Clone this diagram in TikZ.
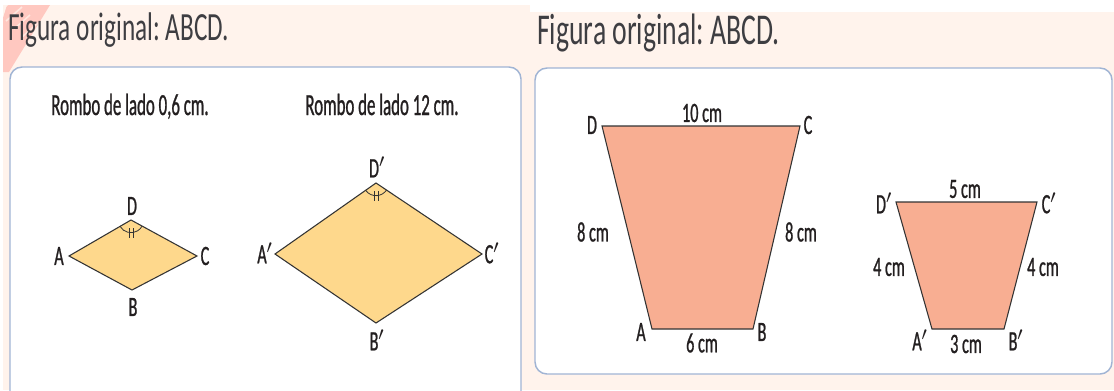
\documentclass[tikz,border=0pt]{standalone}
\usepackage{fontspec}
\usepackage{xcolor}
\usetikzlibrary{angles}
\newfontfamily\lblfont[FakeStretch=0.58,FakeBold=0.8]{Carlito}
\newfontfamily\headfont[FakeStretch=0.55,FakeBold=0.8]{Carlito}
\newfontfamily\ttlfont[FakeStretch=0.63]{Carlito}
\definecolor{mypeach}{RGB}{255,243,236}
\definecolor{myframe}{RGB}{160,180,212}
\definecolor{myyellow}{RGB}{254,216,140}
\definecolor{mysalmon}{RGB}{248,174,146}
\definecolor{myink}{RGB}{35,31,32}
\definecolor{mytitle}{RGB}{62,62,66}
\definecolor{mystripe}{RGB}{255,186,178}
\frenchspacing

\begin{document}
\begin{tikzpicture}[x=0.75pt,y=-0.75pt,
  lbl/.style={text=myink,font=\lblfont\fontsize{21}{24}\selectfont,inner sep=0pt},
  head/.style={text=myink,font=\headfont\fontsize{23}{26}\selectfont,inner sep=0pt,anchor=base},
  ttl/.style={text=mytitle,inner sep=0pt,anchor=base west},
  panel/.style={draw=myframe,line width=1.1pt,fill=white,rounded corners=9pt},
  figline/.style={draw=black!80,line width=0.8pt},
  anglemark/.style={draw=black!80,line width=0.6pt,angle radius=9.5pt}]
\def\W{1114}
\def\H{390}
\useasboundingbox (0,0) rectangle (\W,\H);
\clip (0,0) rectangle (\W,\H);

%backgrounds
\fill[mypeach] (3,5) rectangle (530,\H);
\fill[mypeach] (530,12) rectangle (\W,\H);
\begin{scope}
  \clip (3,5) rectangle (60,80);
  \fill[mystripe,opacity=0.75] (7,5) -- (50,5) -- (9,72) -- (3,72) -- (3,18) -- cycle;
  \foreach \k in {0,8,...,64}
    \draw[mypeach,line width=1.2pt,opacity=0.7] (\k-10,5+\k) -- (\k+6,5+\k-14);
\end{scope}

%titles
\node[ttl,font=\ttlfont\fontsize{30}{33}\selectfont] (t1) at (8,40) {Figura original: ABCD.};
\node[ttl,font=\ttlfont\fontsize{33}{36}\selectfont] (t2) at (537,44) {Figura original: ABCD.};

%frames
\path[panel] (10,67) rectangle (521,410);
\path[panel] (535,68) rectangle (1112,374);

%rhombi
\node[head] (h1) at (130,115) {Rombo de lado 0,6 cm.};
\node[head] (h2) at (382,115) {Rombo de lado 12 cm.};

\coordinate (A) at (69,256);
\coordinate (D) at (131,220);
\coordinate (C) at (197,256);
\coordinate (B) at (132,290);
\draw[figline,fill=myyellow] (A) -- (D) -- (C) -- (B) -- cycle;
\pic[anglemark] {angle = A--D--C};
\foreach \dx in {-2,2}
  \draw[black!80,line width=0.5pt] ([xshift=\dx*0.75pt]D) ++(0,8) -- ++(0,10);

\node[lbl] (lA) at (59,256) {A};
\node[lbl] (lD) at (132,206) {D};
\node[lbl] (lC) at (205,256) {C};
\node[lbl] (lB) at (133,307) {B};

\coordinate (A2) at (275,254);
\coordinate (D2) at (376,183);
\coordinate (C2) at (482,254);
\coordinate (B2) at (376,323);
\draw[figline,fill=myyellow] (A2) -- (D2) -- (C2) -- (B2) -- cycle;
\pic[anglemark] {angle = A2--D2--C2};
\foreach \dx in {-2,2}
  \draw[black!80,line width=0.5pt] ([xshift=\dx*0.75pt]D2) ++(0,8) -- ++(0,10);

\node[lbl] (lA2) at (265,253) {A$'$};
\node[lbl] (lD2) at (377,167) {D$'$};
\node[lbl] (lC2) at (492,253) {C$'$};
\node[lbl] (lB2) at (377,340) {B$'$};

%trapezoids
\coordinate (P) at (652,329);
\coordinate (Q) at (753,329);
\coordinate (R) at (800,126);
\coordinate (S) at (602,126);
\draw[figline,fill=mysalmon] (P) -- (Q) -- (R) -- (S) -- cycle;
\node[lbl] (lP) at (641,332) {A};
\node[lbl] (lQ) at (762,332) {B};
\node[lbl] (lR) at (808,125) {C};
\node[lbl] (lS) at (592,125) {D};
\node[lbl] (top1) at (702,113) {10 cm};
\node[lbl] (left1) at (593,232) {8 cm};
\node[lbl] (right1) at (801,232) {8 cm};
\node[lbl] (bot1) at (702,343) {6 cm};

\coordinate (P2) at (932,329);
\coordinate (Q2) at (1004,329);
\coordinate (R2) at (1037,202);
\coordinate (S2) at (896,202);
\draw[figline,fill=mysalmon] (P2) -- (Q2) -- (R2) -- (S2) -- cycle;
\node[lbl] (lP2) at (920,340) {A$'$};
\node[lbl] (lQ2) at (1016,340) {B$'$};
\node[lbl] (lR2) at (1049,203) {C$'$};
\node[lbl] (lS2) at (884,203) {D$'$};
\node[lbl] (top2) at (965,189) {5 cm};
\node[lbl] (left2) at (889,267) {4 cm};
\node[lbl] (right2) at (1043,267) {4 cm};
\node[lbl] (bot2) at (966,344) {3 cm};

\end{tikzpicture}
\end{document}
